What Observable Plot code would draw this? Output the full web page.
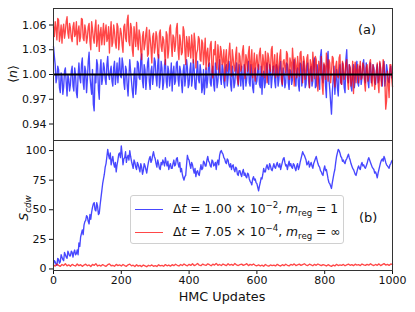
<!DOCTYPE html>
<html>
<head>
<meta charset="utf-8">
<script src="https://cdn.jsdelivr.net/npm/d3@7"></script>
<script src="https://cdn.jsdelivr.net/npm/@observablehq/plot@0.6"></script>
<style>
  html, body { margin: 0; padding: 0; background: #fff; }
  #wrap { position: relative; width: 415px; height: 312px; font-family: "DejaVu Sans", sans-serif; color: #111; overflow: hidden; }
  #wrap svg { position: absolute; left: 0; overflow: visible; }
  .lab { position: absolute; white-space: nowrap; line-height: 1; }
  .rot { transform: translate(-50%, -50%) rotate(-90deg); }
  .legend { position: absolute; left: 130px; top: 195px; width: 214px; height: 49px; border: 1px solid #d0d0d0; border-radius: 3px; background: rgba(255,255,255,0.85); box-sizing: border-box; }
  .leg-row { position: absolute; left: 0; height: 16px; display: flex; align-items: center; font-size: 12.3px; }
  .leg-line { width: 28px; height: 0; border-top: 1.6px solid; margin-left: 4px; margin-right: 10px; }
  sub, sup { font-size: 70%; line-height: 0; }
</style>
</head>
<body>
<div id="wrap"></div>
<script>
// HMC update index of each stored sample (main samples and in-between samples)
const updates = d3.range(0, 1001, 5);
const updatesMid = d3.range(2.5, 1000, 5);

// <n> for Δt = 1.00e-2, m_reg = 1 (blue)
const nBlue = [
1.034,1.012,0.996,1.006,0.978,0.998,0.985,1.008,0.974,0.994,
0.988,1.010,0.980,1.000,0.972,1.014,0.990,1.020,0.982,1.004,
0.994,1.027,0.986,1.006,0.956,0.990,1.012,0.970,1.018,0.996,
1.008,0.988,1.022,0.994,1.010,0.986,1.016,1.000,0.990,1.020,
0.996,1.012,0.982,1.006,0.974,1.018,0.992,0.972,1.008,0.988,
1.014,0.994,1.025,0.984,1.006,0.996,1.020,0.982,1.010,0.998,
1.016,0.986,1.024,0.994,1.008,0.990,1.018,0.984,1.004,0.996,
0.980,1.010,0.992,1.016,0.986,1.004,0.978,1.012,0.996,1.008,
0.988,1.014,0.994,1.006,0.982,1.016,0.990,1.002,0.984,0.976,
1.008,0.994,1.014,0.986,1.010,0.980,1.004,0.992,1.018,0.988,
1.006,0.984,1.012,0.996,1.008,0.980,1.002,0.990,1.014,0.986,
0.998,1.010,0.982,1.006,0.994,1.016,0.986,1.002,0.978,1.008,
0.992,1.012,0.984,0.976,1.004,0.990,1.014,0.988,1.006,0.996,
1.010,0.984,1.008,0.994,1.016,0.986,1.002,0.990,1.012,0.982,
1.004,0.994,1.018,0.986,1.008,0.980,1.012,0.996,1.006,0.988,
1.014,0.984,1.010,0.992,1.020,0.986,1.006,0.982,1.030,0.990,
1.008,0.972,1.028,0.982,0.952,0.994,0.976,1.006,0.974,1.012,
0.988,1.004,0.978,1.030,0.990,1.008,0.980,1.012,0.994,1.016,
0.986,1.010,0.996,1.018,0.990,1.006,0.984,1.014,0.998,1.008,
0.988,1.012,0.994,1.006,0.986,1.016,0.996,1.004,0.990,1.010,
1.002];
const nBlueMid = [
1.022,0.990,1.010,0.984,1.002,0.976,1.004,0.990,1.000,0.980,
1.004,0.986,1.008,0.978,0.998,0.996,1.012,0.990,1.010,0.978,
1.016,0.998,0.976,0.964,1.000,1.018,0.982,1.006,0.988,1.014,
0.994,1.012,1.000,1.004,0.992,1.008,0.988,1.014,1.006,0.998,
1.020,0.990,1.010,0.986,0.998,1.004,0.980,1.000,0.976,1.016,
0.996,1.018,0.992,1.012,0.982,1.014,0.992,1.004,0.988,1.020,
0.996,1.012,0.984,1.016,0.982,1.012,0.992,1.010,0.986,1.014,
1.002,0.988,1.014,0.994,1.010,0.990,1.004,0.986,1.018,0.984,
1.006,0.986,1.018,0.984,1.004,0.994,1.012,0.978,1.006,0.992,
0.984,1.012,0.990,1.004,0.988,1.014,0.984,1.008,0.996,1.012,
0.990,1.008,0.986,1.016,0.988,1.010,0.984,1.008,0.994,1.012,
0.986,0.994,1.012,0.986,1.008,0.990,1.012,0.984,1.004,0.988,
1.006,0.988,1.010,0.998,0.984,1.010,0.992,1.012,0.984,1.010,
0.992,1.012,0.986,1.010,0.992,1.008,0.984,1.014,0.990,1.006,
0.988,1.012,0.992,1.004,0.988,1.014,0.986,1.016,0.984,1.010,
0.992,1.006,0.986,1.016,0.984,1.012,0.990,1.022,0.996,1.012,
0.986,1.018,0.994,0.966,0.978,1.010,0.994,0.984,1.002,0.990,
1.014,0.984,1.018,0.996,1.012,0.986,1.004,0.984,1.008,0.990,
1.010,0.988,1.012,0.994,1.014,0.992,1.008,0.990,1.012,0.990,
1.004,0.990,1.014,0.992,1.008,0.986,1.012,0.992,1.006,0.996];

// <n> for Δt = 7.05e-4, m_reg = ∞ (red)
const nRed = [
1.058,1.064,1.042,1.066,1.048,1.038,1.061,1.052,1.070,1.044,
1.056,1.040,1.063,1.049,1.036,1.059,1.046,1.067,1.041,1.053,
1.045,1.062,1.030,1.055,1.038,1.066,1.043,1.028,1.057,1.048,
1.036,1.060,1.044,1.026,1.064,1.039,1.052,1.032,1.058,1.043,
1.050,1.027,1.061,1.040,1.072,1.035,1.056,1.022,1.047,1.063,
1.030,1.048,1.018,1.052,1.037,1.057,1.025,1.044,1.014,1.050,
1.033,1.046,1.020,1.054,1.028,1.042,1.012,1.048,1.030,1.060,
1.022,1.045,1.036,1.062,1.018,1.040,1.027,1.053,1.012,1.038,
1.046,1.020,1.034,1.050,1.008,1.030,1.043,1.016,1.038,1.026,
1.006,1.032,1.018,1.040,0.996,1.024,1.012,1.036,1.002,1.028,
1.016,0.992,1.030,1.010,1.038,0.998,1.020,1.004,1.033,0.988,
1.022,1.008,1.035,0.995,1.018,1.026,1.000,1.030,1.010,0.992,
1.024,1.006,1.032,0.998,1.015,1.028,0.990,1.020,1.004,1.034,
1.012,0.996,1.026,1.006,1.030,0.988,1.018,1.002,1.025,0.994,
1.014,1.032,0.986,1.010,1.022,0.998,1.028,0.990,1.016,1.004,
1.024,0.984,1.012,1.027,0.995,1.018,0.980,1.008,1.022,0.976,
1.010,1.026,0.992,1.014,1.002,1.020,0.985,1.016,0.996,1.024,
0.988,1.012,1.000,1.018,0.982,1.008,0.994,0.977,1.015,1.004,
0.990,1.016,0.996,1.010,0.980,1.012,0.998,1.018,0.986,1.006,
0.994,1.014,0.978,1.008,0.996,1.012,0.958,1.004,0.972,1.012,
0.985];
const nRedMid = [
1.046,1.056,1.068,1.040,1.060,1.054,1.044,1.064,1.050,1.062,
1.044,1.058,1.046,1.064,1.052,1.040,1.068,1.044,1.060,1.038,
1.058,1.040,1.064,1.044,1.056,1.034,1.060,1.050,1.036,1.062,
1.052,1.040,1.058,1.050,1.034,1.060,1.038,1.062,1.030,1.056,
1.036,1.058,1.044,1.066,1.040,1.062,1.030,1.058,1.034,1.042,
1.054,1.028,1.046,1.030,1.050,1.022,1.054,1.032,1.046,1.026,
1.052,1.024,1.050,1.034,1.046,1.026,1.052,1.020,1.056,1.036,
1.048,1.028,1.056,1.030,1.048,1.024,1.058,1.030,1.046,1.022,
1.030,1.048,1.014,1.040,1.026,1.046,1.018,1.042,1.012,1.044,
1.026,1.010,1.036,1.004,1.030,1.040,1.006,1.022,1.034,1.012,
1.030,1.020,1.004,1.026,1.012,1.030,1.008,1.024,0.996,1.026,
1.004,1.028,1.012,1.024,1.004,1.034,1.014,0.996,1.026,1.014,
1.010,1.026,1.012,1.024,0.996,1.016,1.026,1.008,1.030,1.000,
1.024,1.010,0.998,1.022,0.994,1.016,1.008,1.028,1.000,1.020,
0.996,1.016,1.020,0.996,1.010,1.026,1.004,1.022,0.994,1.020,
1.000,1.018,0.992,1.010,1.022,0.990,1.016,1.000,0.988,1.014,
0.994,1.012,1.018,0.990,1.022,0.996,1.010,0.998,1.020,0.990,
1.016,0.994,1.014,0.992,1.012,0.986,1.016,1.006,0.990,1.012,
1.006,0.994,1.014,0.990,1.008,0.992,1.014,0.994,1.012,0.982,
1.004,0.990,1.016,0.986,1.018,0.992,0.968,0.990,1.012,0.996];

// S_cdw, blue
const sBlue = [
4,6,3,8,6,10,7,12,9,13,
11,14,14,12,16,22,27,33,37,41,
44,38,42,52,56,49,53,47,60,72,
80,89,101,93,88,95,86,82,92,98,
104,88,94,90,96,100,91,85,90,84,
88,82,86,83,87,81,90,95,92,99,
93,86,89,84,88,90,94,87,84,89,
85,92,88,94,86,82,80,75,79,96,
92,85,88,81,78,83,79,88,85,90,
87,95,90,86,91,88,84,92,96,100,
97,93,89,92,86,84,88,82,85,79,
83,78,84,81,77,80,74,71,78,76,
72,66,73,76,85,82,88,84,87,83,
89,85,90,86,84,90,94,87,84,91,
89,85,88,83,89,86,93,99,96,92,
89,86,90,85,91,95,89,86,82,79,
87,84,76,72,68,77,84,95,101,98,
94,92,89,93,97,92,87,84,80,82,
87,84,90,88,85,89,94,90,86,84,
82,77,84,90,93,95,90,87,85,89,
92];
const sBlueMid = [
7,4,9,5,12,8,14,10,15,11,
15,10,16,13,12,19,30,29,40,45,
40,46,48,55,50,56,46,54,66,76,
86,95,96,98,92,89,90,88,97,94,
97,93,99,94,92,95,88,92,86,90,
85,89,80,89,84,86,93,90,96,95,
89,92,85,90,92,87,90,91,87,85,
89,87,93,89,90,85,77,78,88,93,
88,90,84,85,82,80,84,84,91,87,
92,91,87,92,87,90,90,88,99,98,
94,90,93,88,89,87,84,86,80,83,
80,82,79,78,81,76,73,76,75,73,
69,70,77,80,82,86,85,89,84,86,
86,88,87,89,87,93,90,88,88,87,
86,89,85,87,84,90,96,97,94,88,
91,88,87,89,93,92,87,83,80,84,
83,80,73,70,73,81,90,98,100,95,
91,90,92,95,94,89,85,82,79,85,
85,88,87,86,87,92,92,88,85,81,
80,81,87,92,91,93,88,86,88,91];

// S_cdw, red
const sRed = [
3.2,2.4,4.1,3.0,2.2,3.8,2.9,4.4,2.6,3.5,
2.3,3.9,3.1,2.5,4.2,2.8,3.6,2.2,3.3,4.0,
2.7,3.4,2.1,3.8,3.0,4.5,2.5,3.2,2.4,3.7,
2.9,2.2,3.6,4.3,2.7,3.1,2.3,3.9,2.8,3.4,
2.5,3.8,2.9,2.2,3.5,4.1,2.6,3.2,2.1,3.6,
2.4,3.0,2.0,3.3,2.6,1.9,3.1,2.5,3.4,2.2,
2.8,2.1,3.5,2.6,3.0,2.3,3.7,2.7,3.3,2.4,
3.6,2.8,4.0,3.1,2.5,3.8,2.9,4.2,3.3,2.7,
3.9,3.0,4.4,2.9,3.5,4.6,3.2,2.8,4.1,3.4,
3.0,4.3,3.6,2.7,4.0,3.3,4.7,3.1,3.8,2.9,
4.2,3.5,2.8,4.4,3.2,3.9,3.0,4.6,3.4,2.9,
3.7,4.1,3.0,3.6,4.5,2.8,3.9,3.3,4.2,3.1,
2.7,3.5,2.5,3.2,2.3,3.8,2.9,2.4,3.4,2.8,
3.3,2.6,3.9,3.0,2.5,3.6,2.8,4.0,3.1,2.6,
3.8,3.2,4.3,2.9,3.5,4.1,3.0,3.7,4.4,3.3,
2.9,4.0,3.4,2.7,3.9,3.1,4.2,3.5,2.8,3.7,
3.2,2.5,3.6,2.8,2.2,3.3,2.6,3.9,2.9,3.4,
3.0,3.8,2.7,3.5,4.1,3.1,3.7,2.8,4.0,3.3,
3.6,2.9,4.2,3.4,3.0,3.9,3.2,4.4,3.5,2.9,
3.8,3.1,4.3,2.8,3.7,4.5,3.3,3.9,3.0,4.2,
3.6];

const nTicks = [0.94, 0.97, 1.00, 1.03, 1.06];
const sTicks = [0, 25, 50, 75, 100];
const xTicks = [0, 200, 400, 600, 800, 1000];
const refLevel = [1.0];

const BLUE = "#0000ff", RED = "#ff0000", OP = 0.72, LW = 1.35;
const rows = (vals, mid) => {
  const r = updates.map((u, i) => ({u, v: vals[i]}));
  if (mid) updatesMid.forEach((u, i) => r.push({u, v: mid[i]}));
  return r.sort((a, b) => a.u - b.u);
};

const W = 415, ML = 53, MR = 23;
const common = {
  width: W, marginLeft: ML, marginRight: MR,
  style: {fontFamily: "DejaVu Sans, sans-serif", fontSize: "11px", color: "#111", background: "transparent"}
};

const topPlot = Plot.plot({
  ...common,
  height: 140, marginTop: 8, marginBottom: 0,
  x: {domain: [0, 1000], axis: null},
  y: {domain: [0.92, 1.08], axis: null},
  marks: [
    Plot.line(rows(nBlue, nBlueMid), {x: "u", y: "v", stroke: BLUE, strokeOpacity: OP, strokeWidth: LW}),
    Plot.line(rows(nRed, nRedMid), {x: "u", y: "v", stroke: RED, strokeOpacity: OP, strokeWidth: LW}),
    Plot.ruleY(refLevel, {stroke: "#000", strokeWidth: 2}),
    Plot.axisY({ticks: nTicks, tickFormat: d3.format(".2f"), tickSize: 4, tickPadding: 3, label: null}),
    Plot.frame({stroke: "#333", strokeWidth: 1})
  ]
});
topPlot.style.top = "0px";

const bottomPlot = Plot.plot({
  ...common,
  height: 172, marginTop: 0, marginBottom: 42,
  x: {domain: [0, 1000], axis: null},
  y: {domain: [-1.3, 108.5], axis: null},
  marks: [
    Plot.line(rows(sBlue, sBlueMid), {x: "u", y: "v", stroke: BLUE, strokeOpacity: OP, strokeWidth: LW}),
    Plot.line(rows(sRed), {x: "u", y: "v", stroke: RED, strokeOpacity: OP, strokeWidth: LW}),
    Plot.axisY({ticks: sTicks, tickSize: 4, tickPadding: 3, label: null}),
    Plot.axisX({ticks: xTicks, tickFormat: d3.format("d"), tickSize: 4, tickPadding: 2, label: null}),
    Plot.frame({stroke: "#333", strokeWidth: 1})
  ]
});
bottomPlot.style.top = "140px";

const wrap = document.getElementById("wrap");
wrap.appendChild(topPlot);
wrap.appendChild(bottomPlot);

wrap.insertAdjacentHTML("beforeend", `
  <div class="lab rot" style="left:13px;top:74px;font-size:12.5px;">⟨<i>n</i>⟩</div>
  <div class="lab rot" style="left:24px;top:208px;font-size:12.5px;"><i>S</i><sub><i>cdw</i></sub></div>
  <div class="lab" style="left:222px;top:297px;font-size:12.8px;transform:translate(-50%,-50%);">HMC Updates</div>
  <div class="lab" style="left:358px;top:23px;font-size:13px;">(a)</div>
  <div class="lab" style="left:359px;top:211px;font-size:13px;">(b)</div>
  <div class="legend">
    <div class="leg-row" style="top:5px;"><div class="leg-line" style="border-color:rgba(0,0,255,${OP})"></div><span>Δ<i>t</i> = 1.00 × 10<sup>−2</sup>, <i>m</i><sub>reg</sub> = 1</span></div>
    <div class="leg-row" style="top:28px;"><div class="leg-line" style="border-color:rgba(255,0,0,${OP})"></div><span>Δ<i>t</i> = 7.05 × 10<sup>−4</sup>, <i>m</i><sub>reg</sub> = ∞</span></div>
  </div>
`);
</script>
</body>
</html>
